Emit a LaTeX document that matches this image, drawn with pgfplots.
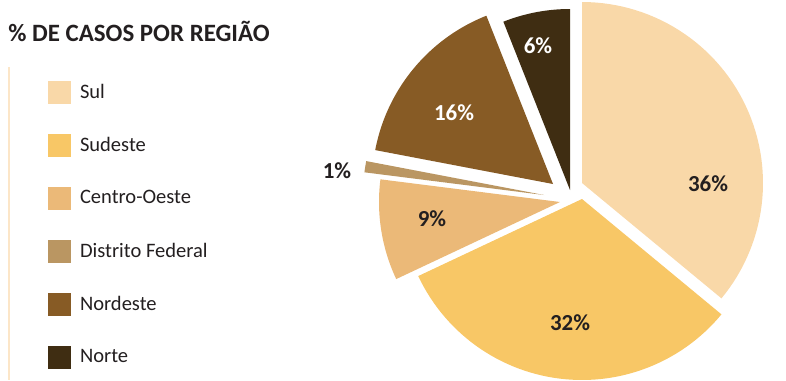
\documentclass[border=0pt]{standalone}
\usepackage{pgfplots}
\pgfplotsset{compat=1.18}
\usepackage{fontspec}
\setmainfont{Carlito}
\definecolor{sul}{HTML}{F9D8A8}
\definecolor{sudeste}{HTML}{F8C766}
\definecolor{co}{HTML}{EBB978}
\definecolor{df}{HTML}{BA9662}
\definecolor{ne}{HTML}{875B25}
\definecolor{norte}{HTML}{3F2D12}
\definecolor{txt}{HTML}{231F20}
\definecolor{vline}{HTML}{FCE6C8}
\newcommand{\R}{181}
% slice: colour, vertex x, vertex y, start angle, end angle (angles from the percentages)
\newcommand{\slice}[5]{%
\addplot[fill=#1, draw=none, samples at={-1,0,...,61}, variable=\k]
 ({#2 + (((\k<0)||(\k>60)) ? 0 : \R)*cos((#4) + ((#5)-(#4))*min(max(\k,0),60)/60)},
  {#3 + (((\k<0)||(\k>60)) ? 0 : \R)*sin((#4) + ((#5)-(#4))*min(max(\k,0),60)/60)});}
\begin{document}
\begin{tikzpicture}
\begin{axis}[
  scale only axis, width=589.5pt, height=285pt,
  xmin=0, xmax=786, ymin=-380, ymax=0,
  axis lines=none, clip=false,
  legend image code/.code={\path[#1] (0pt,-8.625pt) rectangle (17.25pt,8.625pt);},
  legend cell align=left,
  legend style={at={(axis cs:48,-80.5)}, anchor=north west, draw=none, fill=none,
    inner sep=0pt, outer sep=0pt, row sep=22.5pt, column sep=6.75pt,
    font=\fontsize{15.4}{18}\selectfont, text=txt, nodes={inner sep=0pt}},
]
\addplot[vline, line width=1.5pt, forget plot] coordinates {(9,-67) (9,-380)};
% percentages: Sul 36, Sudeste 32, Centro-Oeste 9, Distrito Federal 1, Nordeste 16, Norte 6
\slice{sul}{582}{-183}{90}{90-3.6*36}
\addlegendentry{Sul}
\slice{sudeste}{582}{-199}{90-3.6*36}{90-3.6*68}
\addlegendentry{Sudeste}
\slice{co}{560}{-202}{90-3.6*68}{90-3.6*77}
\addlegendentry{Centro-Oeste}
\slice{df}{544}{-195}{90-3.6*77}{90-3.6*78}
\addlegendentry{Distrito Federal}
\slice{ne}{553}{-184}{90-3.6*78}{90-3.6*94}
\addlegendentry{Nordeste}
\slice{norte}{570}{-190}{90-3.6*94}{90-3.6*100}
\addlegendentry{Norte}
\node[anchor=base west, font=\fontsize{18.7}{22}\selectfont\bfseries, text=txt, inner sep=0pt] at (axis cs:8,-41.7) {\% DE CASOS POR REGIÃO};
\begin{scope}[every node/.style={anchor=base, inner sep=0pt, font=\fontsize{17.2}{20}\selectfont\bfseries}]
\node[text=txt] at (axis cs:708,-191) {36\%};
\node[text=txt] at (axis cs:570,-330) {32\%};
\node[text=txt] at (axis cs:432,-226) {9\%};
\node[text=txt] at (axis cs:337,-178) {1\%};
\node[text=white] at (axis cs:454,-120) {16\%};
\node[text=white] at (axis cs:538,-53) {6\%};
\end{scope}
\end{axis}
\pgfresetboundingbox
\path (current axis.south west) rectangle (current axis.north east);
\end{tikzpicture}
\end{document}
